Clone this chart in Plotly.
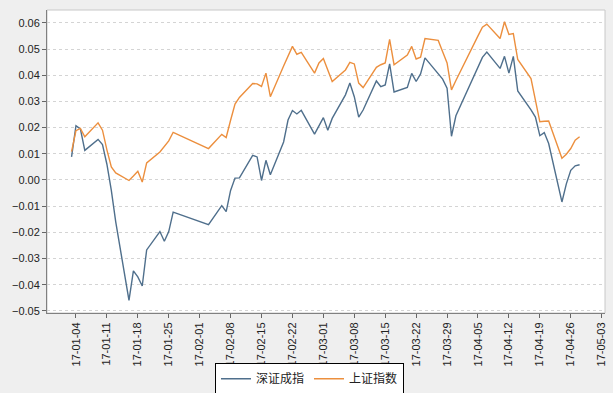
import plotly.graph_objects as go

dates = [
    "2017-01-03", "2017-01-04", "2017-01-05", "2017-01-06",
    "2017-01-09", "2017-01-10", "2017-01-11", "2017-01-12", "2017-01-13",
    "2017-01-16", "2017-01-17", "2017-01-18", "2017-01-19", "2017-01-20",
    "2017-01-23", "2017-01-24", "2017-01-25", "2017-01-26",
    "2017-02-03",
    "2017-02-06", "2017-02-07", "2017-02-08", "2017-02-09", "2017-02-10",
    "2017-02-13", "2017-02-14", "2017-02-15", "2017-02-16", "2017-02-17",
    "2017-02-20", "2017-02-21", "2017-02-22", "2017-02-23", "2017-02-24",
    "2017-02-27", "2017-02-28", "2017-03-01", "2017-03-02", "2017-03-03",
    "2017-03-06", "2017-03-07", "2017-03-08", "2017-03-09", "2017-03-10",
    "2017-03-13", "2017-03-14", "2017-03-15", "2017-03-16", "2017-03-17",
    "2017-03-20", "2017-03-21", "2017-03-22", "2017-03-23", "2017-03-24",
    "2017-03-27", "2017-03-28", "2017-03-29", "2017-03-30", "2017-03-31",
    "2017-04-05", "2017-04-06", "2017-04-07",
    "2017-04-10", "2017-04-11", "2017-04-12", "2017-04-13", "2017-04-14",
    "2017-04-17", "2017-04-18", "2017-04-19", "2017-04-20", "2017-04-21",
    "2017-04-24", "2017-04-25", "2017-04-26", "2017-04-27", "2017-04-28",
]

shenzhen = [
    0.0088, 0.0207, 0.0195, 0.0113,
    0.0155, 0.0135, 0.0060, -0.0040, -0.0160,
    -0.0460, -0.0347, -0.0370, -0.0405, -0.0267,
    -0.0197, -0.0234, -0.0197, -0.0123,
    -0.0171,
    -0.0098, -0.0121, -0.0040, 0.0007, 0.0008,
    0.0094, 0.0088, -0.0002, 0.0075, 0.0020,
    0.0145, 0.0229, 0.0265, 0.0252, 0.0266,
    0.0175, 0.0206, 0.0238, 0.0190, 0.0235,
    0.0325, 0.0370, 0.0318, 0.0240, 0.0267,
    0.0378, 0.0356, 0.0363, 0.0443, 0.0336,
    0.0353, 0.0407, 0.0376, 0.0405, 0.0466,
    0.0405, 0.0385, 0.0350, 0.0167, 0.0245,
    0.0435, 0.0468, 0.0488,
    0.0426, 0.0472, 0.0408, 0.0472, 0.0340,
    0.0268, 0.0240, 0.0169, 0.0181, 0.0139,
    -0.0084, -0.0015, 0.0037, 0.0054, 0.0058,
]

shanghai = [
    0.0108, 0.0188, 0.0197, 0.0165,
    0.0218, 0.0190, 0.0115, 0.0050, 0.0027,
    -0.0002, 0.0015, 0.0033, -0.0008, 0.0065,
    0.0107, 0.0126, 0.0149, 0.0182,
    0.0120,
    0.0174, 0.0162, 0.0228, 0.0290, 0.0315,
    0.0368, 0.0367, 0.0357, 0.0408, 0.0318,
    0.0435, 0.0475, 0.0510, 0.0480, 0.0487,
    0.0408, 0.0447, 0.0464, 0.0420, 0.0376,
    0.0420, 0.0449, 0.0443, 0.0370, 0.0353,
    0.0430, 0.0440, 0.0447, 0.0537, 0.0440,
    0.0477, 0.0510, 0.0462, 0.0469, 0.0540,
    0.0533, 0.0490, 0.0447, 0.0344, 0.0380,
    0.0550, 0.0583, 0.0595,
    0.0540, 0.0604, 0.0556, 0.0559, 0.0460,
    0.0387, 0.0300, 0.0222, 0.0224, 0.0225,
    0.0083, 0.0098, 0.0120, 0.0152, 0.0165,
]

series_names = ["深证成指", "上证指数"]
series_colors = ["#4f6f8c", "#ec8f3e"]

fig = go.Figure()
for name, vals, col in zip(series_names, [shenzhen, shanghai], series_colors):
    fig.add_trace(go.Scatter(
        x=dates, y=vals, name=name, mode="lines",
        line=dict(color=col, width=1.4),
    ))

tick_font = dict(family="Liberation Sans, Arial, sans-serif", size=11, color="#222222")

fig.update_layout(
    width=613, height=393,
    margin=dict(l=47, r=8, t=10, b=80, autoexpand=False),
    paper_bgcolor="#efefef",
    plot_bgcolor="#ffffff",
    showlegend=True,
    legend=dict(
        orientation="h",
        x=0.4704, xanchor="center",
        y=-0.166, yanchor="top",
        bgcolor="#ffffff",
        bordercolor="#000000", borderwidth=1,
        font=dict(family="Noto Sans CJK SC, sans-serif", size=12, color="#222222"),
        itemwidth=30,
        tracegroupgap=0,
    ),
    xaxis=dict(
        type="date",
        range=["2016-12-28 10:36", "2017-05-03 18:00"],
        tick0="2017-01-04", dtick=7 * 86400000,
        tickformat="%y-%m-%d",
        tickangle=-90,
        ticks="outside", ticklen=4, tickcolor="#666666",
        showgrid=False, zeroline=False,
        showline=True, linecolor="#808080", linewidth=1,
        tickfont=tick_font,
        automargin=False,
    ),
    yaxis=dict(
        range=[-0.0508, 0.0649],
        dtick=0.01, tick0=0,
        tickformat=".2f",
        ticks="outside", ticklen=4, tickcolor="#666666",
        showgrid=True, gridcolor="#d4d4d4", griddash="dot", gridwidth=1,
        zeroline=False,
        showline=True, linecolor="#808080", linewidth=1,
        tickfont=tick_font,
        automargin=False,
    ),
    shapes=[dict(
        type="rect", xref="paper", yref="paper",
        x0=0, x1=1, y0=0, y1=1,
        line=dict(color="#c8c8c8", width=1),
        layer="below",
    )],
)

page_js = ("document.body.style.margin='0';"
           "document.body.style.padding='0';"
           "document.body.style.overflow='hidden';"
           "document.body.style.background='#efefef';")

fig.write_html("out.html", post_script=page_js,
               config={"displayModeBar": False, "staticPlot": True})
